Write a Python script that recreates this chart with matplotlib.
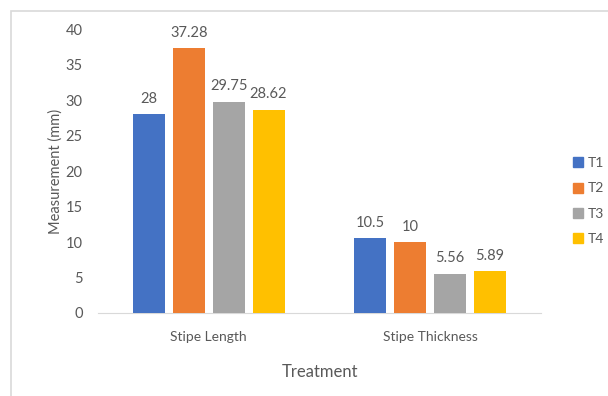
import numpy as np
import matplotlib.pyplot as plt
from matplotlib.patches import Rectangle
from matplotlib.lines import Line2D

plt.rcParams['font.family'] = ['Lato', 'DejaVu Sans']

categories = ["Stipe Length", "Stipe Thickness"]
treatments = ["T1", "T2", "T3", "T4"]
values = {
    "T1": [28, 10.5],
    "T2": [37.28, 10],
    "T3": [29.75, 5.56],
    "T4": [28.62, 5.89],
}
colors = ["#4472c4", "#ed7d31", "#a5a5a5", "#ffc000"]
text_grey = "#595959"

fig = plt.figure(figsize=(6.08, 3.96), dpi=100)
ax = fig.add_axes([98/608, 1 - 313/396, 443/608, 284/396])

x = np.arange(len(categories))
width = 0.144
step = 0.18
for i, t in enumerate(treatments):
    pos = x + (i - 1.5) * step
    bars = ax.bar(pos, values[t], width, color=colors[i], label=t, zorder=3)
    for b, v in zip(bars, values[t]):
        ax.annotate(f"{v:g}", (b.get_x() + b.get_width()/2, v),
                    xytext=(0, 6), textcoords='offset points',
                    ha='center', va='bottom', fontsize=10.5, color=text_grey)

ax.set_xlim(-0.5, 1.5)
ax.set_ylim(0, 40)
ax.set_yticks(range(0, 41, 5))
ax.set_xticks(x)
ax.set_xticklabels(categories)
ax.tick_params(axis='both', length=0, labelsize=10.5, colors=text_grey)
ax.tick_params(axis='x', labelsize=10, pad=13)
ax.tick_params(axis='y', pad=11)
for s in ['top', 'right', 'left']:
    ax.spines[s].set_visible(False)
ax.spines['bottom'].set_color('#d9d9d9')

ax.set_ylabel("Measurement (mm)", fontsize=10.5, color=text_grey, labelpad=2)
fig.text(320/608, 1 - 372/396, "Treatment", ha='center', va='center',
         fontsize=12, color=text_grey)

handles = [Line2D([], [], marker='s', linestyle='none', markersize=6.5,
                  color=c) for c in colors]
fig.legend(handles, treatments, loc='center left',
           bbox_to_anchor=(560/608, 1 - 201/396), frameon=False,
           fontsize=10, labelcolor=text_grey, handlelength=0.8,
           handletextpad=0.3, labelspacing=0.95)

# light chart border on the left and top
fig.add_artist(Rectangle((11/608, -0.1), 1.1, 1.1 - 11/396,
                         transform=fig.transFigure, fill=False,
                         edgecolor='#d9d9d9', linewidth=1.2))

fig.savefig("out.png", dpi=100)
